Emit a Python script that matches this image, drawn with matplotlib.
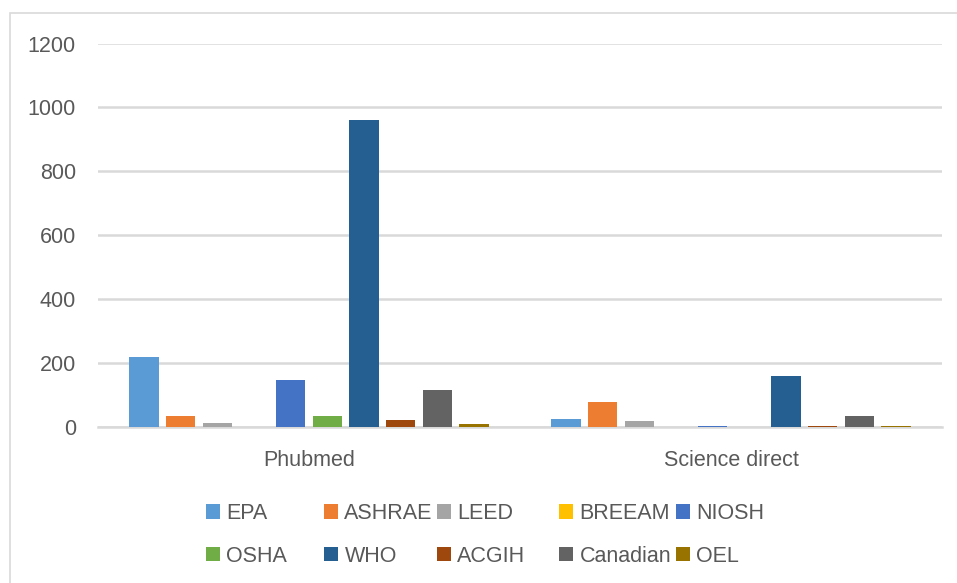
# Clustered column chart: search hits per guideline source in two databases

import numpy as np
import matplotlib.pyplot as plt
from matplotlib.patches import Rectangle

# Data
databases = ['Phubmed', 'Science direct']
series = ['EPA', 'ASHRAE', 'LEED', 'BREEAM', 'NIOSH',
          'OSHA', 'WHO', 'ACGIH', 'Canadian', 'OEL']
phubmed = [218, 33, 12, 0, 145, 32, 960, 20, 115, 10]
science_direct = [23, 76, 17, 0, 3, 0, 159, 3, 35, 3]
colors = ['#5B9BD5', '#ED7D31', '#A5A5A5', '#FFC000', '#4472C4',
          '#70AD47', '#255E91', '#9E480E', '#636363', '#997300']

plt.rcParams['font.family'] = ['Liberation Sans', 'DejaVu Sans']
text_col = '#595959'
grid_col = '#D9D9D9'

fig = plt.figure(figsize=(9.57, 5.83), dpi=100)
ax = fig.add_axes([98/957, 1-426.7/583, (942-98)/957, (426.7-43.5)/583])

x = np.arange(len(databases))
slot = 0.0869
width = 0.0689
bars = []
for i, name in enumerate(series):
    vals = [phubmed[i], science_direct[i]]
    b = ax.bar(x + (i - 4.5)*slot, vals, width, color=colors[i], label=name, zorder=3)
    bars.append(b)

ax.set_xlim(-0.5, 1.5)
ax.set_ylim(0, 1200)
ax.set_yticks(range(0, 1201, 200))
ax.set_xticks(x)
ax.set_xticklabels(databases)
ax.tick_params(axis='both', length=0, labelsize=15.5, labelcolor=text_col)
ax.tick_params(axis='y', pad=16)
ax.tick_params(axis='x', pad=16.5)
ax.grid(axis='y', color=grid_col, linewidth=1.8, zorder=0)
for s in ['top', 'right', 'left']:
    ax.spines[s].set_visible(False)
ax.spines['bottom'].set_color(grid_col)
ax.spines['bottom'].set_linewidth(1.8)

# legend: Excel lays out 5 evenly spaced columns, two rows
col_x = [206, 324, 437, 559, 676]
for c in range(5):
    idx = [c, c + 5]
    fig.legend([bars[k] for k in idx], [series[k] for k in idx],
               loc='upper left', bbox_to_anchor=(col_x[c]/957, 1-503/583),
               frameon=False, fontsize=15.5, labelcolor=text_col,
               handlelength=0.65, handleheight=0.65, handletextpad=0.3,
               labelspacing=1.0, borderpad=0, borderaxespad=0)

# chart area border
fig.patches.append(Rectangle((10/957, -0.05), 1.0, 1-13/583+0.05,
                             transform=fig.transFigure, fill=False,
                             edgecolor=grid_col, linewidth=1.2))

fig.savefig('out.png', dpi=100)
